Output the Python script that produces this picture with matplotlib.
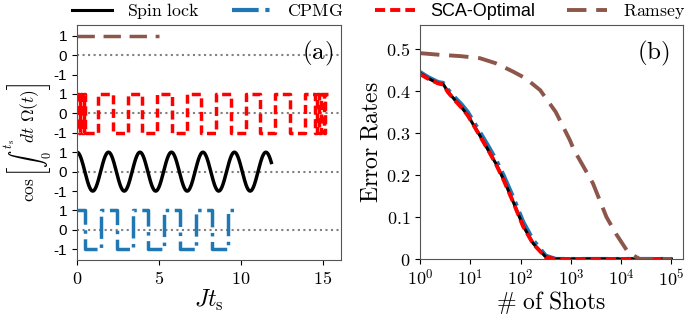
import numpy as np
import matplotlib
matplotlib.use("Agg")
import matplotlib.pyplot as plt

plt.rcParams["mathtext.fontset"] = "cm"
plt.rcParams["axes.edgecolor"] = "#555555"

# ---- panel (a): control sequences, value after cos[int Omega dt]
ramsey_end = 5.0
spin_lock_period = 1.92
spin_lock_end = 11.85
cpmg_switch = [0.47, 1.46, 2.43, 3.40, 4.36, 5.33, 6.30, 7.27, 8.24, 9.22]
cpmg_end = 9.7
sca_switch = [0.10, 0.18, 0.28, 0.40, 0.48,
              1.28, 2.18, 3.08, 3.98, 4.88, 5.78, 6.68, 7.58, 8.48, 9.38,
              10.28, 11.18, 12.08, 12.98, 13.88,
              14.50, 14.62, 14.75, 14.90, 15.05, 15.15]
sca_end = 15.3
offsets = {"ramsey": 9, "sca": 6, "spin": 3, "cpmg": 0}

# ---- panel (b): error rates vs number of shots
shots = [1, 1.45, 2.3, 2.9, 3.6, 4.9, 6.6, 8.9, 14, 22, 32, 46, 72, 112, 178, 316, 500, 100000]
err_spin = [0.442, 0.430, 0.418, 0.416, 0.398, 0.379, 0.362, 0.342, 0.303, 0.262,
            0.228, 0.189, 0.135, 0.079, 0.037, 0.005, 0.0, 0.0]
err_sca = [0.440, 0.429, 0.418, 0.415, 0.397, 0.378, 0.361, 0.342, 0.302, 0.262,
           0.227, 0.188, 0.134, 0.078, 0.036, 0.004, 0.0, 0.0]
err_cpmg = [0.445, 0.433, 0.421, 0.419, 0.403, 0.385, 0.369, 0.350, 0.311, 0.272,
            0.238, 0.199, 0.146, 0.089, 0.045, 0.008, 0.0, 0.0]
ramsey_shots = [1, 2.5, 6.3, 15.5, 32, 71, 126, 245, 500, 955, 1150, 1780, 2750, 5100, 7900, 12900, 17800, 23400, 100000]
err_ramsey = [0.490, 0.486, 0.483, 0.478, 0.466, 0.446, 0.430, 0.402, 0.350, 0.283,
              0.260, 0.220, 0.180, 0.100, 0.060, 0.021, 0.008, 0.0, 0.0]

black = "black"
blue = "#1f77b4"
red = "red"
brown = "#8c564b"


def square_wave(switches, end, start=1):
	x = [0] + list(switches) + [end]
	y = []
	v = start
	for i in range(len(switches) + 1):
		y.append(v)
		v = -v
	y.append(y[-1])
	return np.array(x), np.array(y)


fig = plt.figure(figsize=(6.85, 3.15), dpi=100)
ax1 = fig.add_axes([77 / 685, 55 / 315, 264 / 685, 235 / 315])
ax2 = fig.add_axes([420 / 685, 56 / 315, 263 / 685, 234 / 315])

# panel (a)
for off in offsets.values():
	ax1.axhline(off, color="gray", ls=":", lw=1.5, zorder=1)

ax1.plot([0, ramsey_end], [1 + offsets["ramsey"]] * 2, color=brown, lw=2.5,
         ls=(0, (5, 2.5)))
x, y = square_wave(sca_switch, sca_end)
ax1.plot(x, y + offsets["sca"], color=red, lw=2.5, ls=(0, (2.6, 1.3)), drawstyle="steps-post")
t = np.linspace(0, spin_lock_end, 600)
ax1.plot(t, np.cos(2 * np.pi * t / spin_lock_period) + offsets["spin"], color=black, lw=2.5)
x, y = square_wave(cpmg_switch, cpmg_end)
ax1.plot(x, y + offsets["cpmg"], color=blue, lw=2.5, ls="-.", drawstyle="steps-post")

ax1.set_xlim(0, 16.1)
ax1.set_ylim(-1.55, 10.55)
yt = []
yl = []
for off in sorted(offsets.values()):
	yt += [off - 1, off, off + 1]
	yl += ["-1", "0", "1"]
ax1.set_yticks(yt)
ax1.set_yticklabels(yl, fontsize=11, family="Liberation Sans")
ax1.set_xticks([0, 5, 10, 15])
ax1.set_xticklabels(["$0$", "$5$", "$10$", "$15$"], fontsize=13)
ax1.set_xlabel(r"$Jt_\mathrm{s}$", fontsize=17, labelpad=0)
ax1.set_ylabel(r"$\cos\left[\int_0^{t_\mathrm{s}}\! dt\ \Omega(t)\right]$", fontsize=12.5)
ax1.yaxis.set_label_coords(-0.088, 0.5)
ax1.text(0.97, 0.94, r"$\mathrm{(a)}$", transform=ax1.transAxes, ha="right", va="top", fontsize=18)

# panel (b)
l_cpmg, = ax2.plot(shots, err_cpmg, color=blue, lw=3, ls="-.")
l_spin, = ax2.plot(shots, err_spin, color=black, lw=2.2)
l_sca, = ax2.plot(shots, err_sca, color=red, lw=2.8, ls=(0, (2.6, 1.3)))
l_ramsey, = ax2.plot(ramsey_shots, err_ramsey, color=brown, lw=2.8, ls=(0, (5, 2.5)))
ax2.set_xscale("log")
ax2.set_xlim(1, 10 ** 5.23)
ax2.set_ylim(0, 0.557)
ax2.minorticks_off()
ax2.set_xticks([1, 10, 100, 1000, 10000, 100000])
ax2.set_xticklabels(["$10^{%d}$" % i for i in range(6)], fontsize=13)
ax2.set_yticks([0, 0.1, 0.2, 0.3, 0.4, 0.5])
ax2.set_yticklabels(["$0$", "$0.1$", "$0.2$", "$0.3$", "$0.4$", "$0.5$"], fontsize=13)
ax2.set_xlabel(r"$\#\ \mathrm{of\ Shots}$", fontsize=17, labelpad=0)
ax2.set_ylabel(r"$\mathrm{Error\ Rates}$", fontsize=17, labelpad=2)
ax2.text(0.95, 0.94, r"$\mathrm{(b)}$", transform=ax2.transAxes, ha="right", va="top", fontsize=18)

leg = fig.legend([l_spin, l_cpmg, l_sca, l_ramsey],
                 [r"$\mathrm{Spin\ lock}$", r"$\mathrm{CPMG}$", "SCA-Optimal", r"$\mathrm{Ramsey}$"],
                 loc="upper center", bbox_to_anchor=(0.553, 1.048), ncol=4, frameon=False,
                 fontsize=12.8, handlelength=2.25, columnspacing=1.8, handletextpad=0.85)
leg.get_texts()[2].set_family("Liberation Sans")
leg.get_texts()[2].set_fontsize(13)

fig.savefig("out.png", dpi=100)
